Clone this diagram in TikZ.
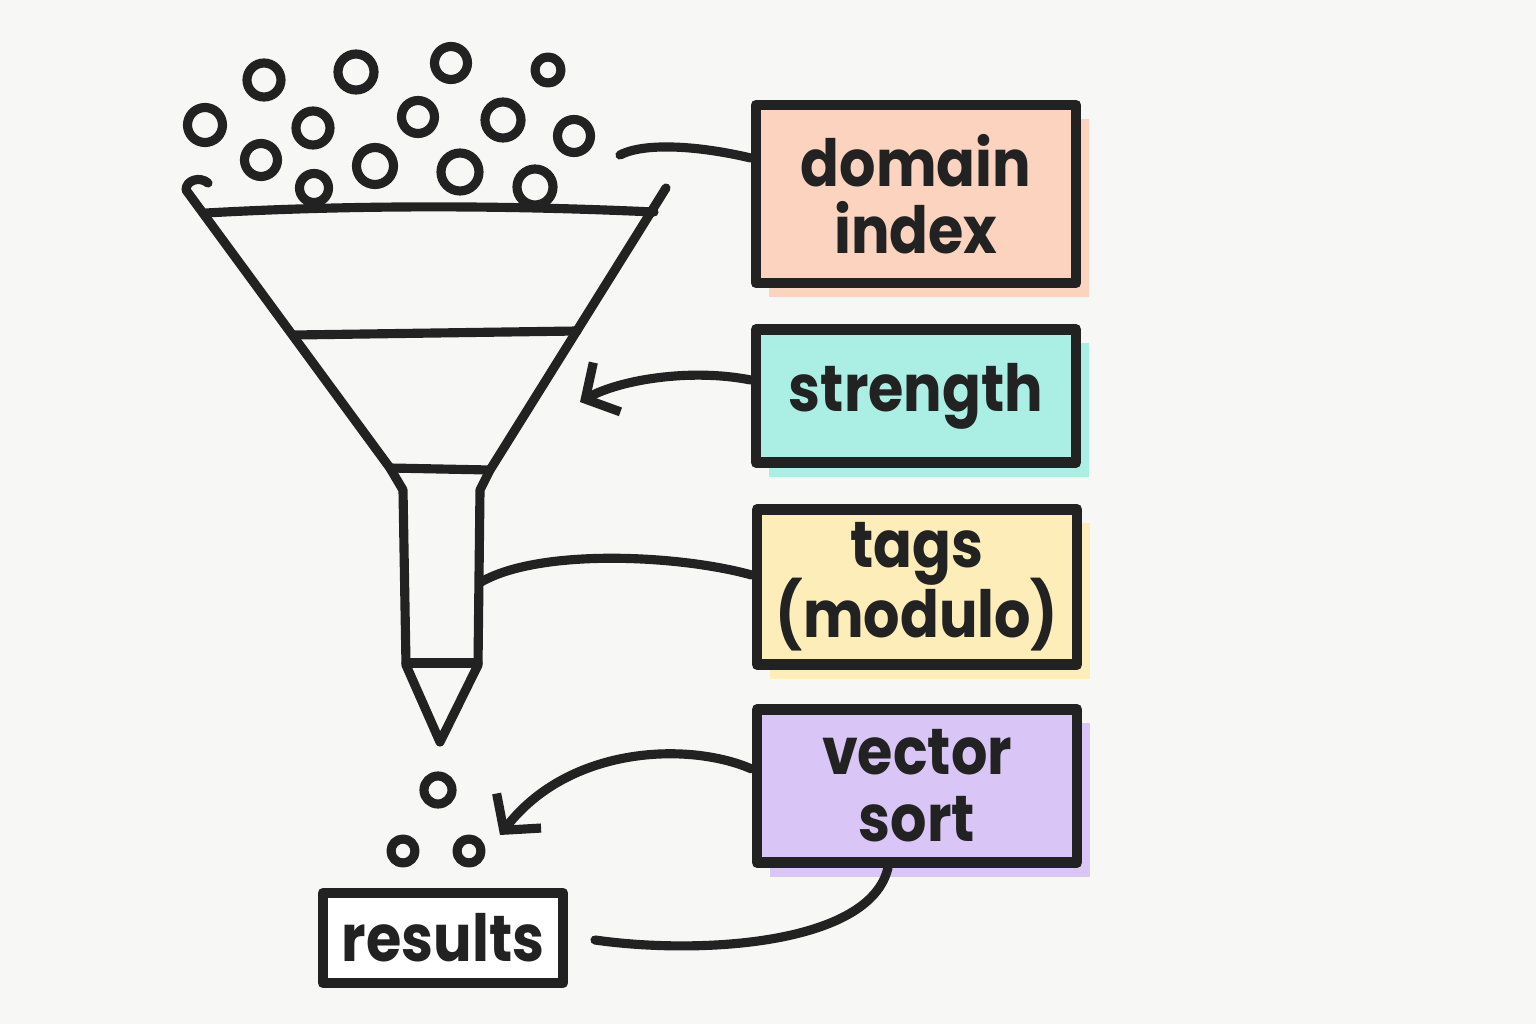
\documentclass[tikz,border=0pt]{standalone}
\usepackage{fontspec}
\setmainfont{Poppins}
\newfontfamily\hand{Poppins}[FakeStretch=0.88]
\usetikzlibrary{arrows.meta,positioning,shadows}
\definecolor{paper}{HTML}{F7F7F5}
\definecolor{inkc}{HTML}{222222}
\definecolor{peach}{HTML}{FCD3BF}
\definecolor{mint}{HTML}{AAEEE4}
\definecolor{cream}{HTML}{FDEDB8}
\definecolor{lilac}{HTML}{D9C6F6}
\begin{document}
\begin{tikzpicture}[x=0.01cm,y=-0.01cm,line join=round,line cap=round,
		>={Straight Barb[length=7pt,width=16pt]},
		ink/.style={draw=inkc,line width=2.6pt},
		paint/.style={fill=#1,general shadow={fill=#1,shadow xshift=0.13cm,shadow yshift=-0.14cm}},
		tagbox/.style={draw=inkc,line width=3pt,minimum width=3.2cm,align=center,text=inkc,
			inner sep=0pt,font=\hand\bfseries\fontsize{18.5}{19}\selectfont}]
	\fill[paper] (0,0) rectangle (1536,1024);
	\useasboundingbox (0,0) rectangle (1536,1024);
	% labels on the right
	\node[tagbox,paint=peach,minimum height=1.78cm] (dom) at (916,194) {domain\\index};
	\node[tagbox,paint=mint,minimum height=1.33cm] (str) at (916,396) {strength};
	\node[tagbox,paint=cream,minimum height=1.55cm] (tag) at (917,587) {tags\\[-3pt](modulo)};
	\node[tagbox,paint=lilac,minimum height=1.53cm] (vec) at (917,786) {vector\\sort};
	\node[tagbox,fill=white,minimum width=2.4cm,minimum height=0.9cm] (res) at (443,938) {results};
	% funnel
	\draw[ink] (208,183) .. controls (200,176) and (186,180) .. (186,190) -- (390,468) -- (403,490)
		-- (406,665) -- (440,742) -- (478,665) -- (480,490) -- (490,470) -- (666,188);
	\draw[ink] (206,213) .. controls (350,205) and (500,205) .. (654,212);
	\draw[ink] (294,335) -- (577,331);
	\draw[ink] (390,468) -- (490,470);
	\draw[ink] (406,663) -- (478,663);
	\coordinate (spout) at (481,582);
	% beads
	\foreach \x/\y/\r in {264/80/17,356/72/18,451/63/16.5,548/70/13,205/125/17.5,313/128/17,
		418/117/16.5,503/120/18,574/136/16.5,261/160/16.5,375/166/18.5,460/172/19,314/188/14.5,
		535/187/18,438/790/14,403/851/12,469/851/12}{
		\draw[ink] (\x,\y) circle (\r*0.01cm);
	}
	% connectors
	\coordinate (domtail) at (620,155);
	\coordinate (strtip) at (580,402);
	\coordinate (outtip) at (500,835);
	\coordinate (restail) at (595,940);
	\draw[ink] ([yshift=0.36cm]dom.west) .. controls (700,146) and (645,142) .. (domtail);
	\draw[ink,->] ([yshift=0.16cm]str.west) .. controls (690,368) and (620,380) .. (strtip);
	\draw[ink] ([yshift=0.12cm]tag.west) .. controls (680,555) and (540,548) .. (spout);
	\draw[ink,->] ([yshift=0.17cm]vec.west) .. controls (690,742) and (570,745) .. (outtip);
	\draw[ink] ([xshift=-0.29cm]vec.south) .. controls (870,945) and (700,955) .. (restail);
\end{tikzpicture}
\end{document}
